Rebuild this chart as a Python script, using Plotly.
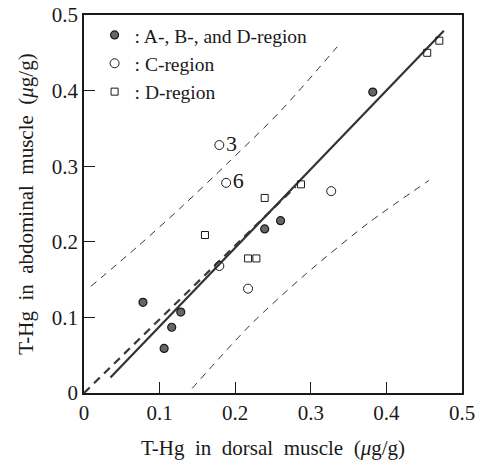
import plotly.graph_objects as go

# A-, B-, and D-region (filled circles)
abd_x = [0.078, 0.106, 0.116, 0.128, 0.239, 0.260, 0.382]
abd_y = [0.120, 0.059, 0.087, 0.107, 0.217, 0.228, 0.398]

# C-region (open circles), two of them numbered
c_x = [0.179, 0.188, 0.327, 0.179, 0.217]
c_y = [0.328, 0.278, 0.267, 0.168, 0.138]
c_labels = ["3", "6", "", "", ""]

# D-region (open squares)
d_x = [0.160, 0.239, 0.287, 0.217, 0.228, 0.454, 0.470]
d_y = [0.209, 0.258, 0.276, 0.178, 0.178, 0.450, 0.466]

# regression line y = a*x + b
fit_x = [0.035, 0.476]
fit_slope, fit_intercept = 1.04, -0.016

# reference line through the origin
ref_x = [0.0, 0.28]
ref_slope = 0.975

# prediction band
upper_x = [0.009, 0.070, 0.130, 0.190, 0.260, 0.335]
upper_y = [0.141, 0.193, 0.247, 0.304, 0.373, 0.458]
lower_x = [0.143, 0.220, 0.293, 0.375, 0.456]
lower_y = [0.006, 0.090, 0.157, 0.224, 0.281]

x_ticks = [0, 0.1, 0.2, 0.3, 0.4, 0.5]
y_ticks = [0, 0.1, 0.2, 0.3, 0.4, 0.5]
tick_text = ["0", "0.1", "0.2", "0.3", "0.4", "0.5"]

SERIF = "Liberation Serif, Times New Roman, serif"
INK = "#1a1a1a"

fig = go.Figure()

# band lines
for bx, by in ((upper_x, upper_y), (lower_x, lower_y)):
    fig.add_trace(go.Scatter(
        x=bx, y=by, mode="lines", showlegend=False, hoverinfo="skip",
        line=dict(color="#333", width=1, dash="7px,6px", shape="spline", smoothing=0.8),
    ))

# reference line
fig.add_trace(go.Scatter(
    x=ref_x, y=[ref_slope * v for v in ref_x], mode="lines",
    showlegend=False, hoverinfo="skip",
    line=dict(color="#3a3a3a", width=2.2, dash="8px,6px"),
))

# regression line
fig.add_trace(go.Scatter(
    x=fit_x, y=[fit_slope * v + fit_intercept for v in fit_x], mode="lines",
    showlegend=False, hoverinfo="skip",
    line=dict(color="#333", width=2.2),
))

fig.add_trace(go.Scatter(
    x=abd_x, y=abd_y, mode="markers", name=": A-, B-, and D-region",
    marker=dict(symbol="circle", size=8, color="#666", line=dict(color=INK, width=1.2)),
))
fig.add_trace(go.Scatter(
    x=c_x, y=c_y, mode="markers+text", name=": C-region",
    text=c_labels, textposition="middle right",
    textfont=dict(family=SERIF, size=22, color=INK),
    marker=dict(symbol="circle-open", size=9, color=INK, line=dict(width=1)),
))
fig.add_trace(go.Scatter(
    x=d_x, y=d_y, mode="markers", name=": D-region",
    marker=dict(symbol="square-open", size=7, color=INK, line=dict(width=1)),
))

axis_common = dict(
    range=[0, 0.5], showgrid=False, zeroline=False,
    showline=True, linecolor=INK, linewidth=1.6, mirror=True,
    ticks="inside", ticklen=11, tickwidth=1.3, tickcolor=INK,
    tickfont=dict(family=SERIF, size=21, color=INK),
    ticklabeloverflow="allow",
    automargin=False,
)

fig.update_layout(
    width=477, height=465,
    margin=dict(l=84, r=15, t=15, b=72),
    paper_bgcolor="white", plot_bgcolor="white",
    font=dict(family=SERIF, color=INK),
    xaxis=dict(
        **axis_common, tickvals=x_ticks, ticktext=tick_text,
        title=dict(text="T-Hg  in  dorsal  muscle  (<i>μ</i>g/g)",
                   font=dict(family=SERIF, size=21, color=INK), standoff=16),
    ),
    yaxis=dict(
        **axis_common, tickvals=y_ticks, ticktext=tick_text,
        title=dict(text="T-Hg  in  abdominal  muscle  (<i>μ</i>g/g)",
                   font=dict(family=SERIF, size=21, color=INK), standoff=12),
    ),
    legend=dict(
        x=0.028, y=0.998, xanchor="left", yanchor="top",
        bgcolor="rgba(0,0,0,0)", borderwidth=0,
        font=dict(family=SERIF, size=19.5, color=INK),
        itemwidth=30, tracegroupgap=0,
    ),
    showlegend=True,
)

fig.write_html("out.html")
